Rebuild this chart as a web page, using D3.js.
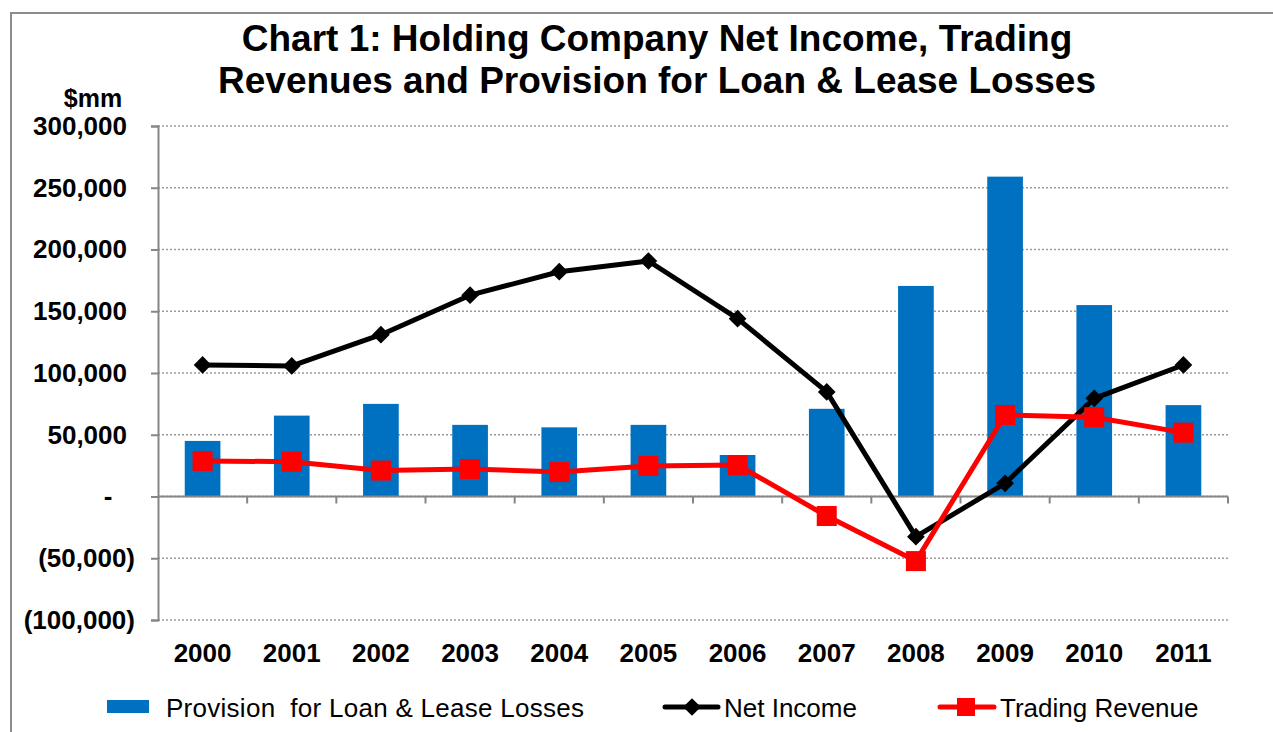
<!DOCTYPE html>
<html>
<head>
<meta charset="utf-8">
<script src="https://cdn.jsdelivr.net/npm/d3@7"></script>
<style>
  body { margin: 0; background: #fff; }
  svg { display: block; font-family: "Liberation Sans", Arial, sans-serif; }
</style>
</head>
<body>
<script>
// data ($mm)
const years = ["2000","2001","2002","2003","2004","2005","2006","2007","2008","2009","2010","2011"];
const provision = [45000, 65500, 75000, 58000, 56000, 58000, 33600, 71000, 170500, 259000, 155000, 74000];
const netIncome = [106500, 105700, 131000, 163000, 182000, 190700, 144000, 84700, -32500, 10700, 79500, 106500];
const trading = [28800, 28200, 21000, 22300, 19800, 24700, 25500, -15800, -52300, 66000, 64200, 51700];
const yTicks = [-100000, -50000, 0, 50000, 100000, 150000, 200000, 250000, 300000];

const width = 1273, height = 732;
const margin = {top: 126, right: 45, bottom: 112, left: 158};

const svg = d3.select("body").append("svg")
    .attr("width", width)
    .attr("height", height);

// outer chart frame
svg.append("path")
    .attr("d", `M11,${height + 5}V13H${width + 5}`)
    .attr("fill", "none")
    .attr("stroke", "#8c8c8c")
    .attr("stroke-width", 2);

const x = d3.scaleBand()
    .domain(years)
    .range([margin.left, width - margin.right]);

const y = d3.scaleLinear()
    .domain([-100000, 300000])
    .range([height - margin.bottom, margin.top]);

const fmt = v => v === 0 ? "-" : v < 0 ? `(${d3.format(",")(-v)})` : d3.format(",")(v);

// gridlines
svg.append("g")
  .selectAll("line")
  .data(yTicks)
  .join("line")
    .attr("x1", margin.left)
    .attr("x2", width - margin.right)
    .attr("y1", d => y(d))
    .attr("y2", d => y(d))
    .attr("stroke", "#9a9a9a")
    .attr("stroke-width", 1.5)
    .attr("stroke-dasharray", "2,2");

// y axis
const yAxis = svg.append("g")
    .attr("transform", `translate(${margin.left},0)`)
    .call(d3.axisLeft(y).tickValues(yTicks).tickSize(7).tickPadding(16).tickFormat(fmt));
yAxis.select(".domain").attr("stroke", "#868686").attr("stroke-width", 2);
yAxis.selectAll(".tick line").attr("stroke", "#868686").attr("stroke-width", 2);
yAxis.selectAll(".tick text")
    .attr("font-size", 26)
    .attr("font-weight", "bold")
    .attr("fill", "#000")
    .attr("font-family", "Liberation Sans, Arial, sans-serif")
    .attr("text-anchor", d => d === 0 ? "middle" : "end")
    .attr("x", d => d === 0 ? -50 : d < 0 ? -23 : -31);

svg.append("text")
    .attr("x", 93)
    .attr("y", 107)
    .attr("text-anchor", "middle")
    .attr("font-size", 25)
    .attr("font-weight", "bold")
    .text("$mm");

// bars
svg.append("g")
  .selectAll("rect")
  .data(provision)
  .join("rect")
    .attr("x", (d, i) => x(years[i]) + x.bandwidth() * 0.3)
    .attr("width", x.bandwidth() * 0.4)
    .attr("y", d => y(Math.max(0, d)))
    .attr("height", d => Math.abs(y(d) - y(0)))
    .attr("fill", "#0070c0");

// zero axis with category ticks
const xAxis = svg.append("g")
    .attr("transform", `translate(0,${y(0)})`);
xAxis.append("line")
    .attr("x1", margin.left)
    .attr("x2", width - margin.right)
    .attr("stroke", "#868686")
    .attr("stroke-width", 2);
xAxis.selectAll(".cat-tick")
  .data(years.slice(1).concat(["end"]))
  .join("line")
    .attr("class", "cat-tick")
    .attr("x1", d => d === "end" ? width - margin.right : x(d))
    .attr("x2", d => d === "end" ? width - margin.right : x(d))
    .attr("y1", 0)
    .attr("y2", 7)
    .attr("stroke", "#868686")
    .attr("stroke-width", 2);

// category labels
svg.append("g")
  .selectAll("text")
  .data(years)
  .join("text")
    .attr("x", d => x(d) + x.bandwidth() / 2)
    .attr("y", 662)
    .attr("text-anchor", "middle")
    .attr("font-size", 26)
    .attr("font-weight", "bold")
    .text(d => d);

const cx = i => x(years[i]) + x.bandwidth() / 2;
const line = d3.line().x((d, i) => cx(i)).y(d => y(d));

// net income line
svg.append("path")
    .datum(netIncome)
    .attr("fill", "none")
    .attr("stroke", "#000")
    .attr("stroke-width", 5)
    .attr("stroke-linejoin", "round")
    .attr("d", line);
svg.append("g")
  .selectAll("path")
  .data(netIncome)
  .join("path")
    .attr("transform", (d, i) => `translate(${cx(i)},${y(d)})`)
    .attr("d", d3.symbol(d3.symbolDiamond2, 200))
    .attr("fill", "#000");

// trading revenue line
svg.append("path")
    .datum(trading)
    .attr("fill", "none")
    .attr("stroke", "#ff0000")
    .attr("stroke-width", 5)
    .attr("stroke-linejoin", "round")
    .attr("d", line);
svg.append("g")
  .selectAll("rect")
  .data(trading)
  .join("rect")
    .attr("x", (d, i) => cx(i) - 10)
    .attr("y", d => y(d) - 10)
    .attr("width", 20)
    .attr("height", 20)
    .attr("fill", "#ff0000");

// title
svg.append("text")
    .attr("x", 657)
    .attr("y", 51)
    .attr("text-anchor", "middle")
    .attr("font-size", 37)
    .attr("font-weight", "bold")
    .text("Chart 1: Holding Company Net Income, Trading");
svg.append("text")
    .attr("x", 657)
    .attr("y", 93)
    .attr("text-anchor", "middle")
    .attr("font-size", 37)
    .attr("font-weight", "bold")
    .text("Revenues and Provision for Loan & Lease Losses");

// legend
const legend = svg.append("g").attr("font-size", 26);
legend.append("rect")
    .attr("x", 107).attr("y", 700).attr("width", 42).attr("height", 13)
    .attr("fill", "#0070c0");
legend.append("text").attr("x", 166).attr("y", 717).style("white-space", "pre")
    .attr("textLength", 418)
    .text("Provision  for Loan & Lease Losses");

legend.append("line")
    .attr("x1", 665).attr("x2", 718).attr("y1", 707).attr("y2", 707)
    .attr("stroke", "#000").attr("stroke-width", 5).attr("stroke-linecap", "round");
legend.append("path")
    .attr("transform", "translate(692,707)")
    .attr("d", d3.symbol(d3.symbolDiamond2, 200))
    .attr("fill", "#000");
legend.append("text").attr("x", 724).attr("y", 717).text("Net Income");

legend.append("line")
    .attr("x1", 940).attr("x2", 994).attr("y1", 707).attr("y2", 707)
    .attr("stroke", "#ff0000").attr("stroke-width", 5).attr("stroke-linecap", "round");
legend.append("rect")
    .attr("x", 957).attr("y", 698).attr("width", 18).attr("height", 18)
    .attr("fill", "#ff0000");
legend.append("text").attr("x", 1000).attr("y", 717).text("Trading Revenue");
</script>
</body>
</html>
